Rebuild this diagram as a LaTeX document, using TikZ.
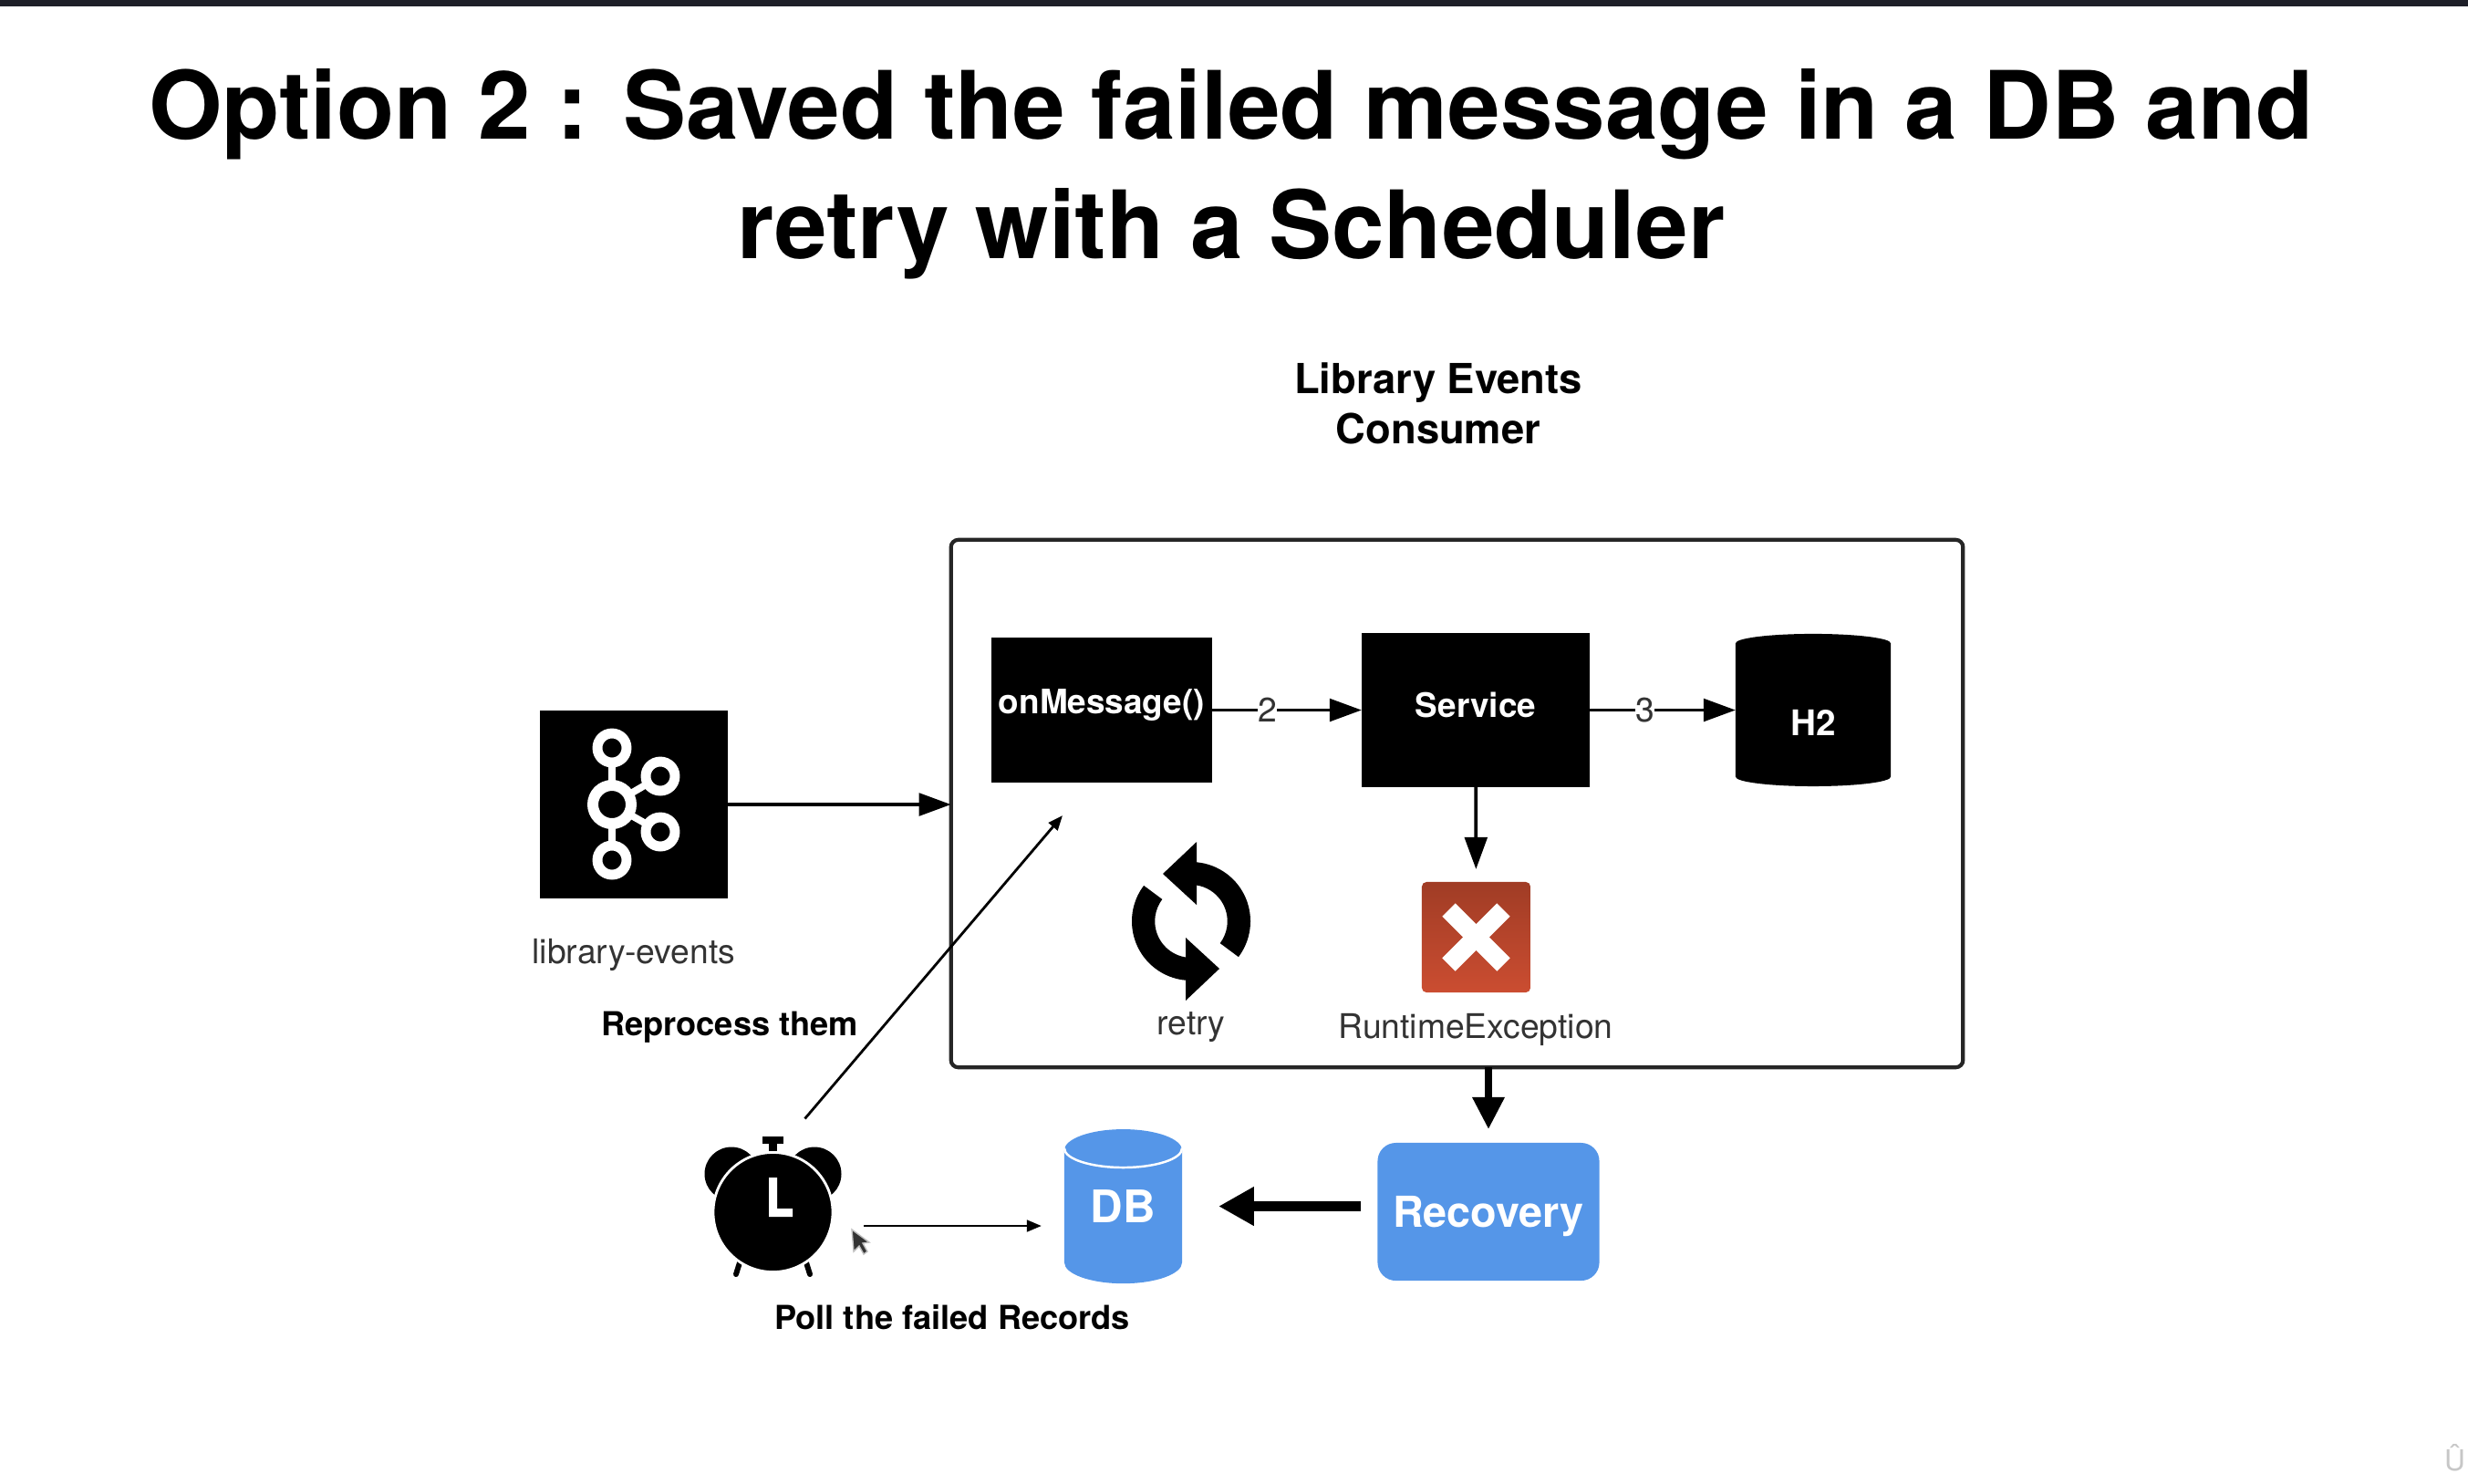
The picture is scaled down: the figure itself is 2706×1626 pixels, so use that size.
\documentclass[tikz,border=0pt]{standalone}
\usepackage{fontspec}
\setmainfont{TeX Gyre Heros}
\usetikzlibrary{positioning,calc,arrows.meta,shapes.geometric}

\definecolor{topbar}{HTML}{1E1F28}
\definecolor{dbblue}{HTML}{5596E8}
\definecolor{xtop}{HTML}{A03C25}
\definecolor{xbottom}{HTML}{CB4D31}
\newcommand{\nudgetext}[2]{\raisebox{#1}[\height][\depth]{#2}}

\begin{document}
\begin{tikzpicture}[x=0.01cm, y=0.01cm, every node/.style={inner sep=0pt, outer sep=0pt},
	headline/.style={font=\fontsize{29.4}{37.4}\selectfont\bfseries, align=center},
	boldlabel/.style={font=\fontsize{12.9}{15.6}\selectfont\bfseries, align=center},
	smallbold/.style={font=\fontsize{10.3}{13}\selectfont\bfseries},
	plainlabel/.style={font=\fontsize{10.6}{13}\selectfont, text=black!80},
	blackbox/.style={fill=black, text=white, font=\fontsize{10.5}{13}\selectfont\bfseries},
	bluebox/.style={fill=dbblue, text=white, font=\fontsize{13.3}{16}\selectfont\bfseries},
	drum/.style={cylinder, shape border rotate=90},
	flow/.style={-{Triangle[length=10pt, width=7pt]}, line width=1.1pt},
	thinflow/.style={-{Triangle[length=4.6pt, width=3.6pt]}, line width=0.8pt},
	heavyflow/.style={-{Triangle[length=10pt, width=9.6pt]}, line width=2.2pt},
	stepnumber/.style={fill=white, font=\fontsize{10.6}{13}\selectfont, text=black!80}]

\useasboundingbox (0,0) rectangle (2706,-1626);
\fill[topbar] (0,0) rectangle (2706,-7);

\node[headline] (title) at (1350,-191) {Option 2 : Saved the failed message in a DB and\\retry with a Scheduler};
\node[boldlabel] (consumerlabel) at (1577,-442) {Library Events\\Consumer};

\node[draw=black!85, line width=1.2pt, rounded corners=0.08cm, minimum width=11.09cm, minimum height=5.78cm] (consumer) at (1597.5,-881) {};
\node[blackbox, minimum width=2.06cm, minimum height=2.06cm] (kafka) at (695,-882) {};
\node[plainlabel] (topiclabel) at (695,-1047) {library-events};

% kafka logo
\foreach \px/\py in {671/820, 671/943, 724/851, 724/912}
    \draw[white, line width=2.2pt] (671,-882) -- (\px,-\py);
\draw[white, line width=3.4pt, fill=black] (671,-882) circle (21);
\foreach \px/\py in {671/820, 671/943, 724/851, 724/912}
    \draw[white, line width=3.1pt, fill=black] (\px,-\py) circle (16);

\node[blackbox, minimum width=2.42cm, minimum height=1.59cm] (onmessage) at (1208,-778.5) {\nudgetext{1.5pt}{onMessage()}};
\node[blackbox, minimum width=2.50cm, minimum height=1.69cm] (service) at (1618,-778.5) {\nudgetext{1.5pt}{Service}};
\node[drum, fill=black, text=white, font=\fontsize{11}{13}\selectfont\bfseries, shape aspect=0.42, minimum width=1.70cm, minimum height=1.67cm] (htwo) at (1988,-784) {\nudgetext{-2.4pt}{H2}};

\draw[flow] (kafka) -- (kafka -| consumer.west);
\draw[flow] (onmessage) -- node[stepnumber, pos=0.37] {2} (service);
\draw[flow] (service) -- node[stepnumber, pos=0.38] {3} (service -| htwo.west);

% retry icon
\coordinate (retryicon) at (1306,-1010);
\foreach \a in {0,180}
    \fill[shift={(retryicon)}, rotate=\a] (6,87) -- (-31,52) -- (6,18) -- (6,39.5)
        arc[start angle=81, end angle=-37, radius=40] -- (-37:65)
        arc[start angle=-37, end angle=84.7, radius=65] -- cycle;
\node[plainlabel] (retrylabel) at (1306,-1126) {retry};

% failure box
\node[top color=xtop, bottom color=xbottom, rounded corners=0.05cm, minimum width=1.19cm, minimum height=1.21cm] (failure) at (1618.5,-1027.5) {};
\draw[white, line width=5.8pt] (1618.5-30,-1027.5+30) -- (1618.5+30,-1027.5-30);
\draw[white, line width=5.8pt] (1618.5-30,-1027.5-30) -- (1618.5+30,-1027.5+30);
\node[plainlabel] (failurelabel) at (1618,-1129) {RuntimeException};
\draw[flow, shorten >=0.14cm] (service) -- (failure);

\node[bluebox, rounded corners=0.2cm, minimum width=2.43cm, minimum height=1.51cm] (recovery) at (1632,-1328.5) {\nudgetext{-1.5pt}{Recovery}};
\node[drum, fill=dbblue, text=white, font=\fontsize{14}{16}\selectfont\bfseries, shape aspect=0.65, minimum width=1.29cm, minimum height=1.69cm] (db) at (1231.5,-1334.5) {\nudgetext{3.4pt}{DB}};
\draw[white, line width=0.7pt] (1167,-1259) arc[start angle=180, end angle=360, x radius=64.5, y radius=21];
\coordinate (dbside) at ($(db.east)+(0,12)$); %arrow meets the drum above its centre

\draw[heavyflow, shorten >=0.15cm] (consumer.south -| recovery) -- (recovery.north);
\draw[heavyflow, line width=3pt, -{Triangle[length=11pt, width=11.4pt]}, shorten >=0.4cm, shorten <=0.185cm] (recovery.west |- dbside) -- (dbside);

% alarm clock
\fill (802,-1287) circle (29.5);
\fill (893,-1287) circle (29.5);
\fill (836,-1246) rectangle (859,-1254);
\fill (843,-1250) rectangle (852,-1270);
\draw[black, line width=1.7pt, line cap=round] (813,-1378) -- (807,-1397);
\draw[black, line width=1.7pt, line cap=round] (882,-1378) -- (888,-1397);
\node[circle, fill=black, draw=white, line width=0.8pt, minimum size=1.31cm] (clock) at (847.5,-1329) {};
\fill[white] (843,-1291) rectangle (852,-1334) (843,-1325) rectangle (869,-1334);

\coordinate (pollstart) at ($(clock.east)+(34,-15)$);
\draw[thinflow, shorten >=0.25cm] (pollstart) -- (pollstart -| db.west);
\node[smallbold] (polllabel) at (1044,-1444) {Poll the failed Records};

\coordinate (reprocessstart) at ($(clock.north)+(35,37)$);
\coordinate (reprocessend) at ($(onmessage.south)+(-43,-36)$);
\draw[thinflow] (reprocessstart) -- (reprocessend);
\node[smallbold] (reprocesslabel) at (800,-1126) {Reprocess them};

% mouse pointer
\fill[black!80, draw=black!25, line width=0.4pt] (934,-1348) -- (936,-1372) -- (942,-1366) -- (947,-1375) -- (951,-1372) -- (946,-1363) -- (953,-1362) -- cycle;

\node[anchor=west, text=black!22, font=\fontsize{9}{9}\selectfont] (mark) at (2680,-1598) {Û};
\end{tikzpicture}
\end{document}
